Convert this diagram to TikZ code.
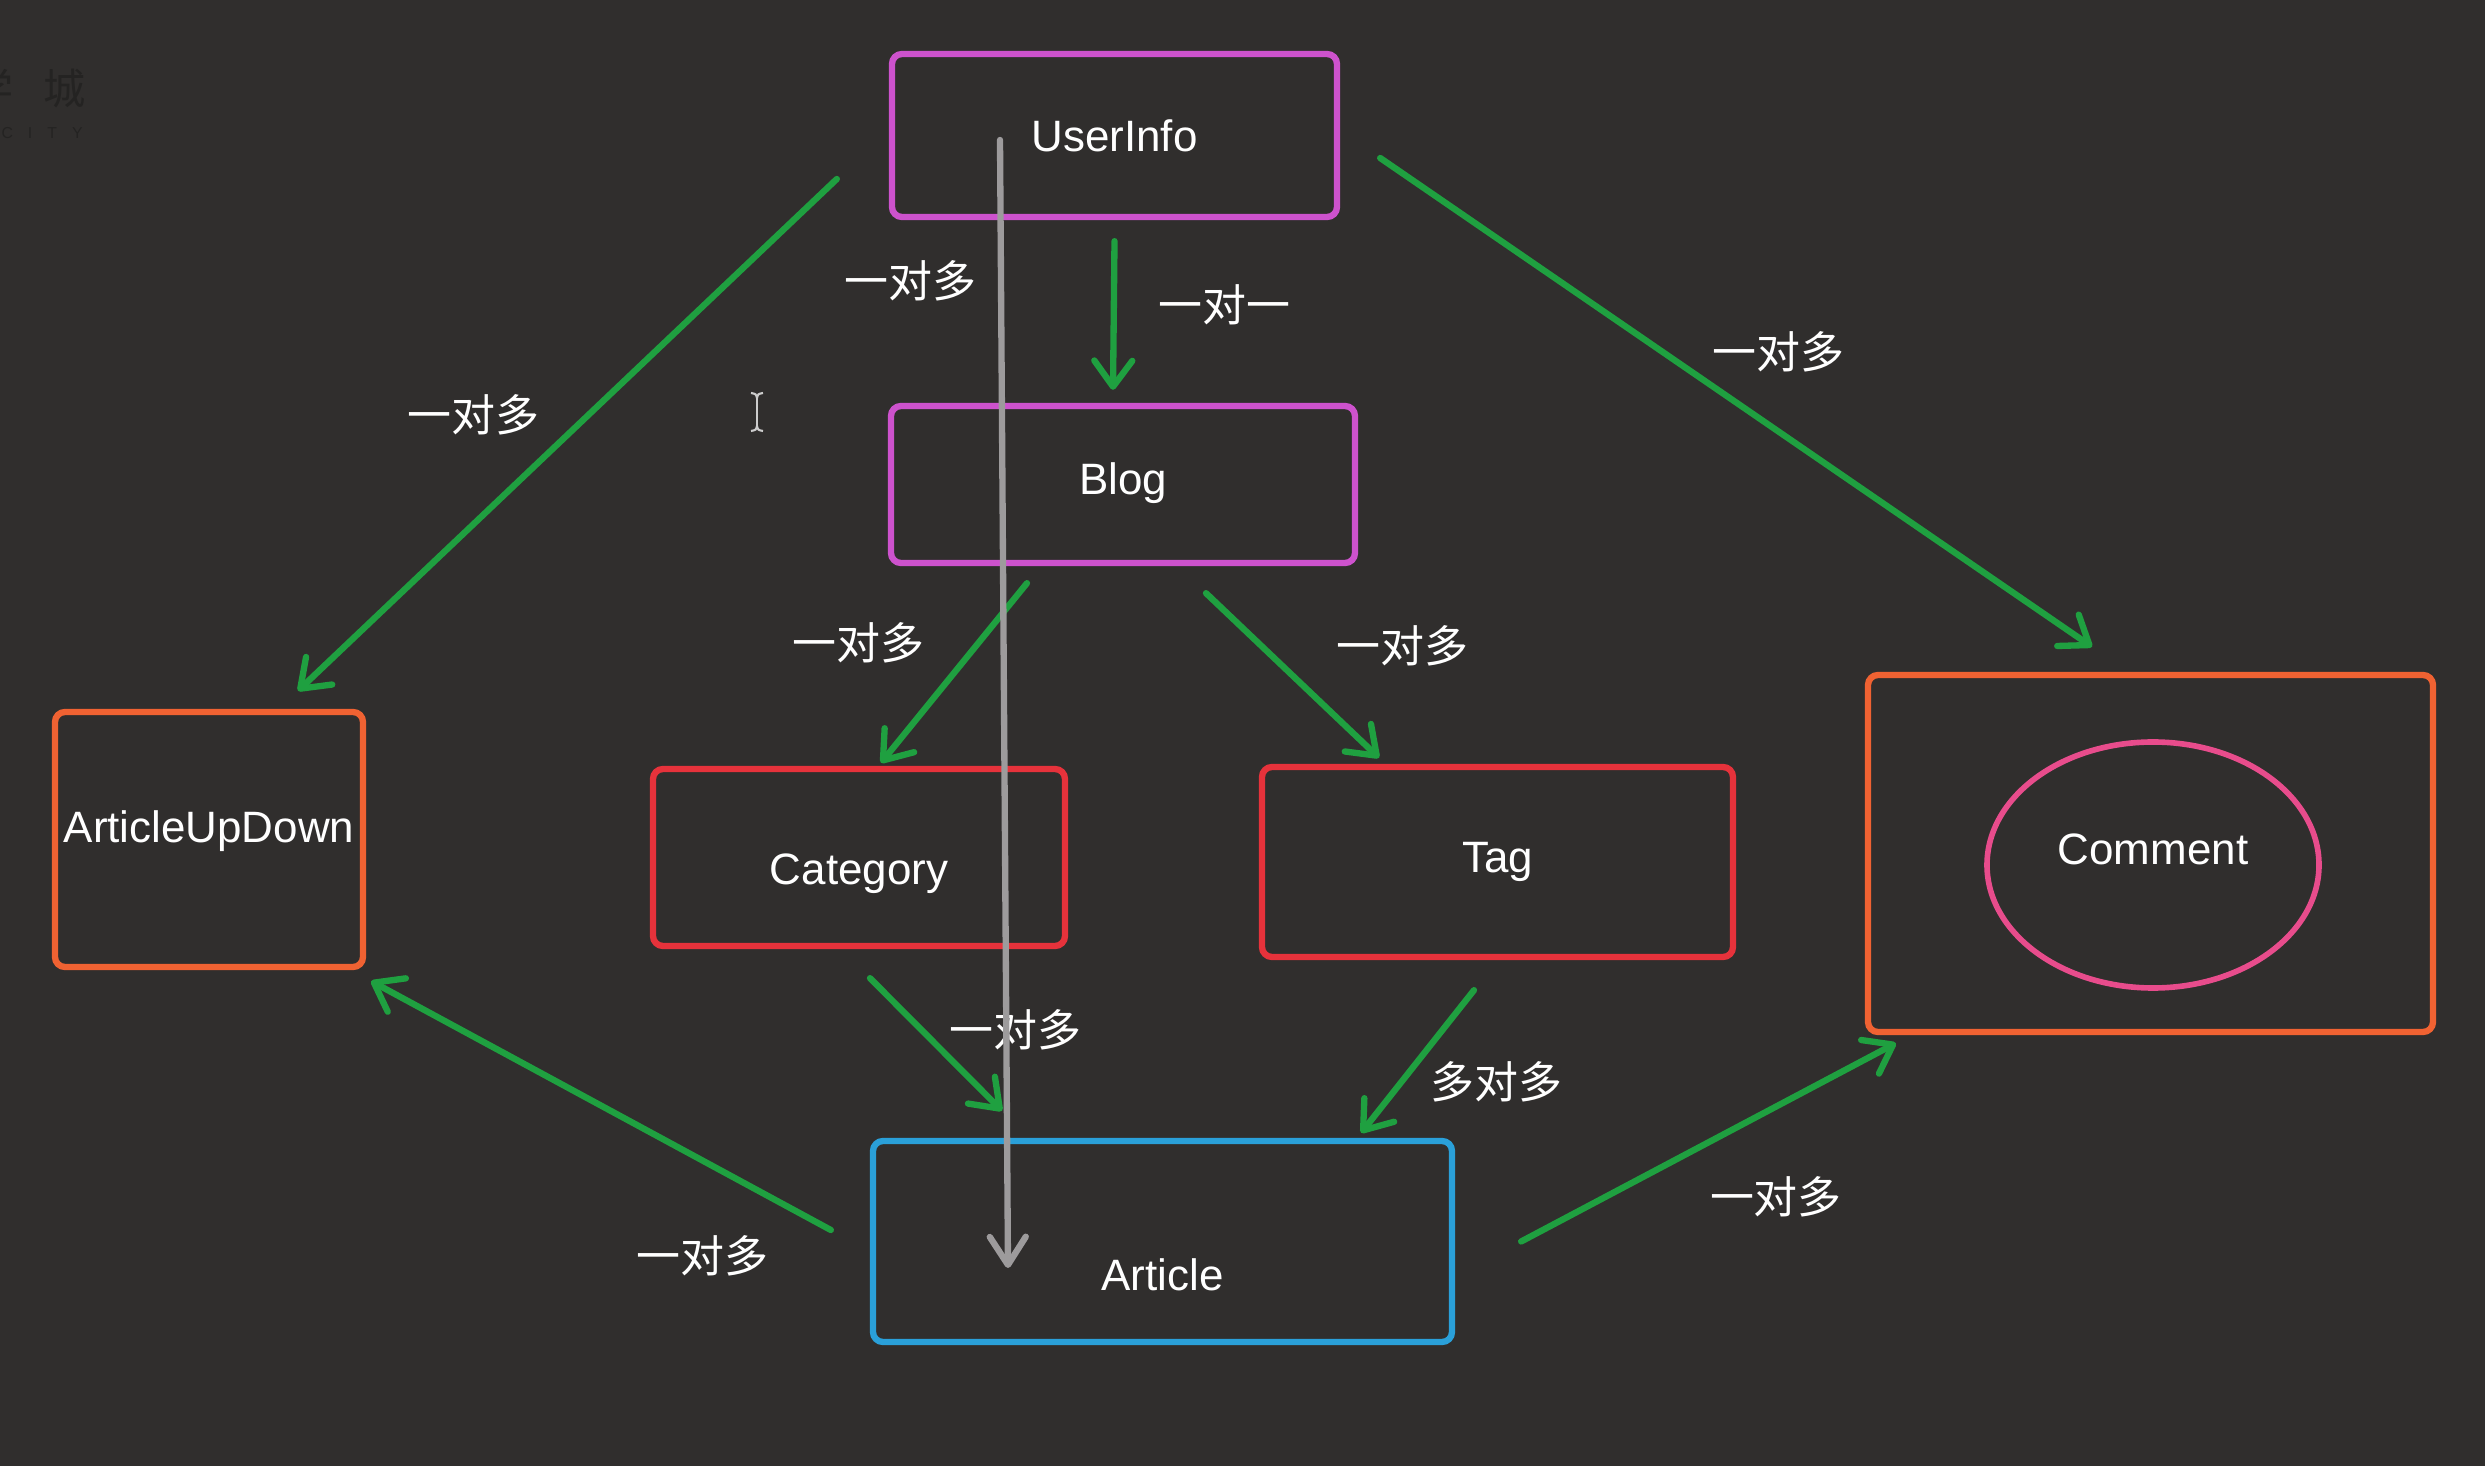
\documentclass[tikz,border=0pt]{standalone}
\usepackage{fontspec}
\setmainfont{Liberation Sans}
\newfontfamily\cjk{Noto Sans CJK SC}
\usetikzlibrary{calc,positioning,shapes.geometric,arrows.meta}

\definecolor{fondo}{HTML}{302E2D}
\definecolor{marca}{HTML}{242322}
\definecolor{morado}{HTML}{CD52CD}
\definecolor{rojo}{HTML}{E6323B}
\definecolor{naranja}{HTML}{F06232}
\definecolor{rosa}{HTML}{E84C8C}
\definecolor{azul}{HTML}{2AA0D9}
\definecolor{verde}{HTML}{1FA040}
\definecolor{gris}{HTML}{9D9B9C}

\begin{document}
\begin{tikzpicture}[
  caja/.style={draw,rounded corners=1mm,line width=1.8pt,text=white,font=\fontsize{12.5}{15}\selectfont},
  rel/.style={text=white,font=\cjk\fontsize{12.5}{15}\selectfont},
  flecha/.style={draw=verde,line width=1.8pt,line cap=round,-{Straight Barb[round,length=2.6mm,width=3.8mm]}}
  ]

  \useasboundingbox (0,0) rectangle (24.85,14.66);
  \fill[fondo] (0,0) rectangle (24.85,14.66);

  % marca de agua
  \node[text=marca,font=\cjk\fontsize{12}{14}\selectfont,anchor=east] (marca1) at (0.98,13.78) {学\hspace{.3cm}城};
  \node[text=marca,font=\fontsize{4.5}{5}\selectfont,anchor=east] (marca2) at (0.95,13.33) {C\hspace{1.5mm}I\hspace{1.5mm}T\hspace{1.5mm}Y};

  \node[caja,draw=morado,minimum width=4.45cm,minimum height=1.63cm] (user) at (11.145,13.305) {UserInfo};
  \node[caja,draw=morado,minimum width=4.64cm,minimum height=1.57cm,text height=.3cm,text depth=.1cm] (blog) at (11.23,9.815) {Blog};
  \node[caja,draw=rojo,minimum width=4.12cm,minimum height=1.77cm,text height=.54cm,text depth=0cm] (cat) at (8.59,6.085) {Category};
  \node[caja,draw=rojo,minimum width=4.71cm,minimum height=1.90cm] (tag) at (14.975,6.04) {Tag};
  \node[caja,draw=naranja,inner xsep=.05cm,minimum width=3.08cm,minimum height=2.55cm,text height=.33cm,text depth=.27cm] (aud) at (2.09,6.265) {ArticleUpDown};
  \node[caja,draw=naranja,minimum width=5.65cm,minimum height=3.57cm] (combox) at (21.505,6.125) {};
  \node[caja,draw=rosa,sharp corners,ellipse,line width=1.6pt,minimum width=3.32cm,minimum height=2.46cm,text height=.3cm,text depth=.3cm] (com) at (21.53,6.01) {Comment};
  \node[caja,draw=azul,minimum width=5.79cm,minimum height=2.01cm,text height=1cm,text depth=.02cm] (art) at (11.625,2.245) {Article};

  \draw[flecha] ($(user.south)+(0,-.21)$) --
    node[rel,pos=.43,right=3mm] (r1) {一对一} ($(blog.north)+(-.1,.13)$);
  \draw[flecha] ($(user.west)+(-.52,-.435)$) --
    node[rel,pos=.46,left=3.5mm] (r2) {一对多} ($(aud.north)+(.89,.18)$);
  \draw[flecha] ($(user.east)+(.4,-.225)$) --
    node[rel,pos=.56,above=4.5mm] (r3) {一对多} ($(combox.north)+(-.585,.25)$);
  \draw[flecha] ($(blog.south)+(-.96,-.17)$) --
    node[rel,pos=.33,left=4mm] (r4) {一对多} ($(cat.north)+(.22,.03)$);
  \draw[flecha] ($(blog.south)+(.83,-.27)$) --
    node[rel,pos=.32,right=6mm] (r5) {一对多} ($(tag.north)+(-1.185,.06)$);
  \draw[flecha] ($(cat.south)+(.11,-.29)$) --
    node[rel,pos=.39,right=1.3mm] (r6) {一对多} ($(art.north)+(-1.605,.27)$);
  \draw[flecha] ($(tag.south)+(-.235,-.30)$) --
    node[rel,pos=.64,right=1.4mm] (r7) {多对多} ($(art.north east)+(-.94,.05)$);
  \draw[flecha] ($(art.west)+(-.39,.115)$) --
    node[rel,pos=.28,below=6mm] (r8) {一对多} ($(aud.south east)+(.05,-.11)$);
  \draw[flecha] ($(art.east)+(.66,0)$) --
    node[rel,pos=.68,below=5.5mm] (r9) {一对多} ($(combox.south west)+(.31,-.08)$);

  \draw[gris,line width=1.8pt,line cap=round,-{Straight Barb[round,length=2.8mm,width=3.6mm]}]
    ($(user.center)+(-1.145,-.045)$) --
    node[rel,pos=.125,left=1mm] (r0) {一对多} ($(art.center)+(-1.545,-.265)$);

  % cursor
  \draw[white!80!black,line width=.6pt] (7.57,10.39) -- (7.57,10.69);
  \draw[white!80!black,line width=.6pt] (7.51,10.73) .. controls (7.56,10.72) .. (7.57,10.68) .. controls (7.58,10.72) .. (7.63,10.73);
  \draw[white!80!black,line width=.6pt] (7.51,10.35) .. controls (7.56,10.36) .. (7.57,10.40) .. controls (7.58,10.36) .. (7.63,10.35);

\end{tikzpicture}
\end{document}
